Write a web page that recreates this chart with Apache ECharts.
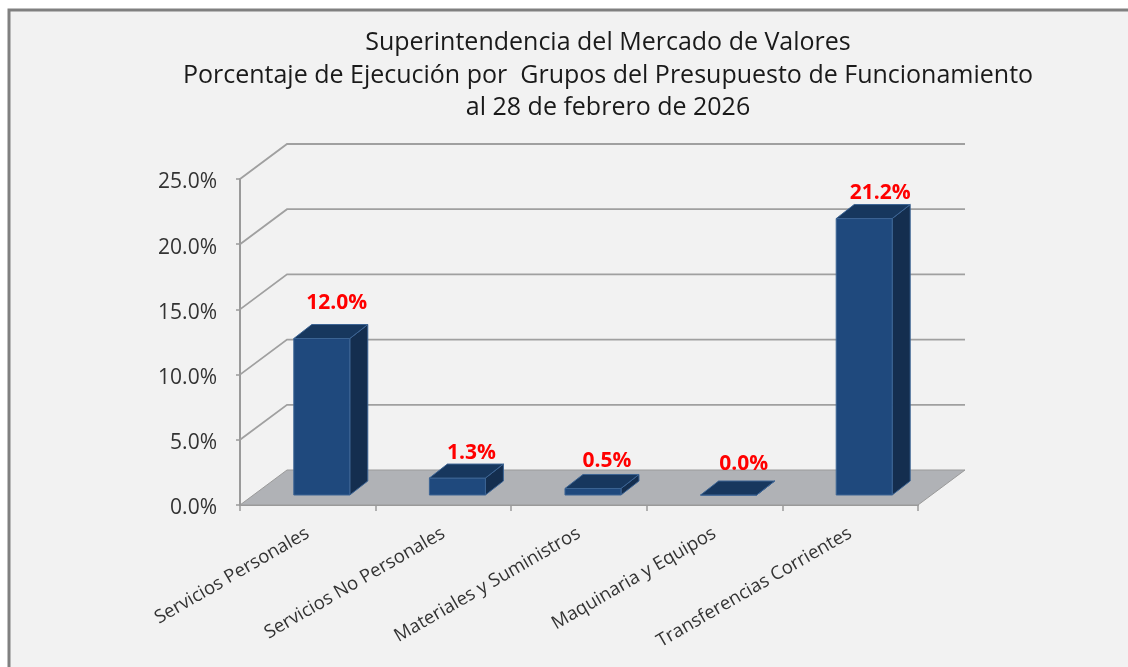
<!DOCTYPE html>
<html>
<head>
    <meta charset="utf-8">
    <title>Porcentaje de Ejecución</title>
    <script src="https://cdn.jsdelivr.net/npm/echarts@6/dist/echarts.min.js"></script>
    <style>
        html, body { margin: 0; padding: 0; background: #fff; overflow: hidden; }
    </style>
</head>
<body>
    <div id="chart" style="width: 1128px; height: 667px;"></div>

    <script>
        const titleLines = [
            'Superintendencia del Mercado de Valores',
            'Porcentaje de Ejecución por  Grupos del Presupuesto de Funcionamiento',
            'al 28 de febrero de 2026'
        ];
        const categories = [
            'Servicios Personales',
            'Servicios No Personales',
            'Materiales y Suministros',
            'Maquinaria y Equipos',
            'Transferencias Corrientes'
        ];
        const values = [12.0, 1.3, 0.5, 0.0, 21.2];
        const yTicks = [0, 5, 10, 15, 20, 25];

        // hand placed labels in the original, [dx, dy] from the top of each bar
        const labelNudge = [[7, -22], [6, -11], [6, -13], [7, -17], [8, -12]];

        // fake 3d: how far the back wall sits from the front plane
        const wallDx = 47;
        const wallDy = 35;
        // bars stand a bit inside the floor
        const barDx = 14;
        const barDy = 10;
        const barDepthX = 18;
        const barDepthY = 14;

        const chart = echarts.init(document.getElementById('chart'));

        function renderWall(params, api) {
            const val = api.value(0);
            const sys = params.coordSys;
            const y = api.coord([0, val])[1];
            const left = sys.x;
            const right = sys.x + sys.width;
            const children = [];
            if (val === 0) {
                children.push({
                    type: 'polygon',
                    shape: { points: [[left, y], [right, y], [right + wallDx, y - wallDy], [left + wallDx, y - wallDy]] },
                    style: { fill: '#b0b2b6', stroke: '#9a9a9a', lineWidth: 1 }
                });
            } else {
                children.push({
                    type: 'polyline',
                    shape: { points: [[left, y], [left + wallDx, y - wallDy], [right + wallDx, y - wallDy]] },
                    style: { fill: 'none', stroke: '#a0a0a0', lineWidth: 1.8 }
                });
            }
            return { type: 'group', children: children };
        }

        function renderBar(params, api) {
            const idx = api.value(0);
            const val = api.value(1);
            const base = api.coord([idx, 0]);
            const top = api.coord([idx, val]);
            const w = api.size([1, 0])[0] * 0.413;
            const x0 = base[0] + barDx - w / 2;
            const x1 = x0 + w;
            const yb = base[1] - barDy;
            const yt = top[1] - barDy;
            const line = { stroke: '#3c6494', lineWidth: 1 };
            const nudge = labelNudge[idx];
            return {
                type: 'group',
                children: [
                    {
                        type: 'polygon',
                        shape: { points: [[x1, yb], [x1 + barDepthX, yb - barDepthY], [x1 + barDepthX, yt - barDepthY], [x1, yt]] },
                        style: Object.assign({ fill: '#142e4f' }, line)
                    },
                    {
                        type: 'rect',
                        shape: { x: x0, y: yt, width: w, height: yb - yt },
                        style: Object.assign({ fill: '#1f497d' }, line)
                    },
                    {
                        type: 'polygon',
                        shape: { points: [[x0, yt], [x1, yt], [x1 + barDepthX, yt - barDepthY], [x0 + barDepthX, yt - barDepthY]] },
                        style: Object.assign({ fill: '#17375e' }, line)
                    },
                    {
                        type: 'text',
                        style: {
                            x: (x0 + x1 + barDepthX) / 2 + nudge[0] - 1,
                            y: yt - barDepthY + nudge[1],
                            text: val.toFixed(1) + '%',
                            fill: '#ff0000',
                            font: 'bold 21px "Open Sans", sans-serif',
                            align: 'center',
                            verticalAlign: 'middle'
                        }
                    }
                ]
            };
        }

        const option = {
            animation: false,
            backgroundColor: '#fff',
            title: {
                text: titleLines.join('\n'),
                left: 603,
                top: 22,
                textAlign: 'center',
                textStyle: {
                    fontFamily: '"Open Sans", sans-serif',
                    fontWeight: 'normal',
                    fontSize: 25,
                    lineHeight: 32.5,
                    color: '#1a1a1a'
                }
            },
            graphic: [{
                type: 'rect',
                z: -10,
                shape: { x: 9, y: 10, width: 1140, height: 680 },
                style: { fill: '#f2f2f2', stroke: '#808080', lineWidth: 3 }
            }],
            grid: { left: 240, top: 179, width: 678, height: 326 },
            xAxis: {
                type: 'category',
                data: categories,
                axisLine: { lineStyle: { color: '#9a9a9a', width: 2 } },
                axisTick: { show: true, alignWithLabel: false, length: 6, lineStyle: { color: '#9a9a9a', width: 1.5 } },
                axisLabel: {
                    interval: 0,
                    rotate: 30,
                    margin: 27,
                    fontFamily: '"Open Sans", sans-serif',
                    fontSize: 18.5,
                    color: '#333'
                }
            },
            yAxis: {
                type: 'value',
                min: 0,
                max: 25,
                interval: 5,
                splitLine: { show: false },
                axisLine: { show: true, lineStyle: { color: '#9a9a9a', width: 2 } },
                axisTick: { show: true, length: 4, lineStyle: { color: '#9a9a9a', width: 1.5 } },
                axisLabel: {
                    margin: 23,
                    formatter: (v) => '{t|' + v.toFixed(1) + '%}',
                    rich: {
                        t: {
                            padding: [7, 0, 0, 0],
                            fontFamily: '"Open Sans", sans-serif',
                            fontSize: 21,
                            color: '#333'
                        }
                    }
                }
            },
            series: [
                {
                    type: 'custom',
                    z: 1,
                    silent: true,
                    renderItem: renderWall,
                    encode: { y: 0 },
                    data: yTicks.map((t) => [t])
                },
                {
                    type: 'custom',
                    z: 3,
                    silent: true,
                    renderItem: renderBar,
                    encode: { x: 0, y: 1 },
                    data: values.map((v, i) => [i, v])
                }
            ]
        };

        chart.setOption(option);
    </script>
</body>
</html>
